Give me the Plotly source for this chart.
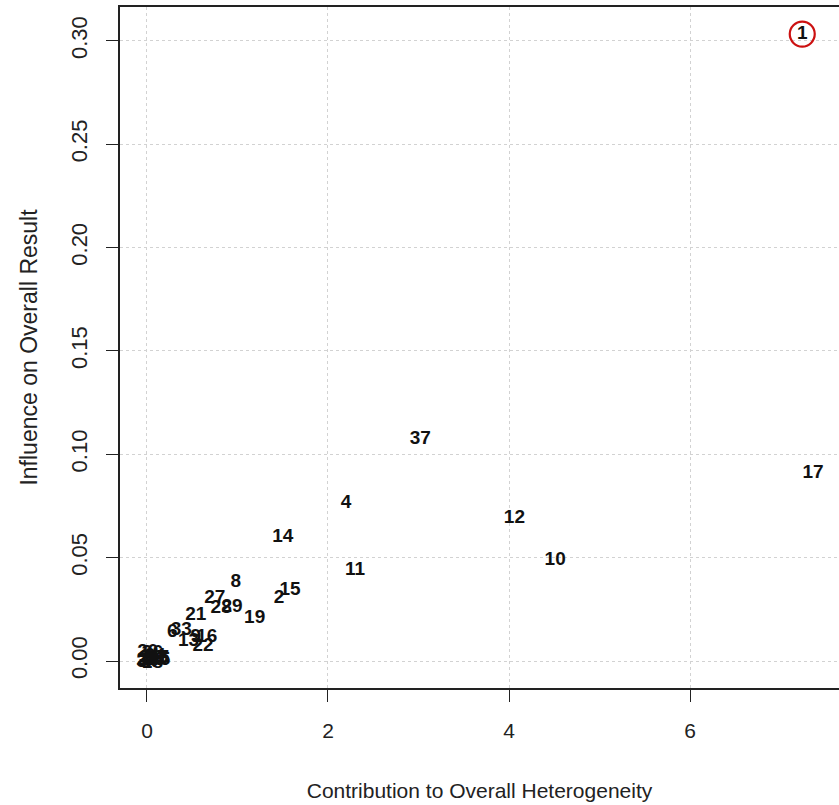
import plotly.graph_objects as go

# Baujat plot: each study's contribution to heterogeneity vs influence on the pooled result
study = ["1", "17", "37", "4", "12", "10", "14", "11", "15", "2", "8", "27", "28", "29",
         "19", "21", "6", "33", "13", "9", "16", "22",
         "34", "3", "30", "31", "7", "18", "23", "20", "36", "24", "26", "25", "35", "5"]
heterogeneity = [7.24, 7.36, 3.02, 2.20, 4.06, 4.51, 1.50, 2.30, 1.58, 1.46, 0.98, 0.75, 0.82, 0.94,
                 1.19, 0.54, 0.28, 0.38, 0.46, 0.54, 0.66, 0.62,
                 0.00, 0.01, 0.02, 0.03, 0.04, 0.06, 0.00, 0.01, 0.06, 0.09, 0.08, 0.12, 0.14, 0.19]
influence = [0.3033, 0.0910, 0.1074, 0.0764, 0.0692, 0.0489, 0.0600, 0.0440, 0.0343, 0.0305,
             0.0382, 0.0305, 0.0256, 0.0261, 0.0208, 0.0223, 0.0140, 0.0150, 0.0097, 0.0116,
             0.0116, 0.0073,
             -0.0005, 0.0010, 0.0000, 0.0015, 0.0000, -0.0010, 0.0005, 0.0044, 0.0039, 0.0024,
             0.0005, 0.0015, 0.0005, 0.0015]
flagged = ["1"]

x_ticks = [0, 2, 4, 6]
y_ticks = [0.00, 0.05, 0.10, 0.15, 0.20, 0.25, 0.30]

label_font = dict(family="Liberation Sans, Arial", size=19, color="#111111")
x_font = dict(family="Liberation Sans, Arial", size=21, color="#222222")
y_tick_font = dict(family="Liberation Sans, Arial", size=22, color="#222222")
y_title_font = dict(family="Liberation Sans, Arial", size=23, color="#222222")

fig = go.Figure()
fig.add_trace(go.Scatter(
    x=heterogeneity, y=influence, mode="text", text=[f"<b>{s}</b>" for s in study],
    textposition="middle center", textfont=label_font, hoverinfo="skip", showlegend=False,
))

# Ring around the flagged outlier
fx = [h for h, s in zip(heterogeneity, study) if s in flagged]
fy = [v for v, s in zip(influence, study) if s in flagged]
fig.add_trace(go.Scatter(
    x=fx, y=fy, mode="markers",
    marker=dict(symbol="circle-open", size=25, color="#cc1111", line=dict(width=2.2, color="#cc1111")),
    hoverinfo="skip", showlegend=False,
))

fig.update_layout(
    width=839, height=805,
    margin=dict(l=120, r=0, t=7, b=117),
    plot_bgcolor="white", paper_bgcolor="white",
    font=x_font,
    xaxis=dict(
        range=[-0.298, 7.646], tickvals=x_ticks, ticktext=[str(t) for t in x_ticks],
        tickfont=x_font,
        showgrid=True, gridcolor="#d2d2d2", griddash="dot", gridwidth=1,
        zeroline=False, showline=True, mirror=True, linecolor="#222222", linewidth=1.6,
        ticks="outside", ticklen=12, tickcolor="#222222", tickwidth=1.2,
        ticklabelstandoff=11,
        title=dict(text="Contribution to Overall Heterogeneity", standoff=42, font=x_font),
    ),
    yaxis=dict(
        range=[-0.01306, 0.3164], tickvals=y_ticks, ticktext=[f"{t:.2f}" for t in y_ticks],
        tickangle=-90, tickfont=y_tick_font,
        showgrid=True, gridcolor="#d2d2d2", griddash="dot", gridwidth=1,
        zeroline=False, showline=True, mirror=False, linecolor="#222222", linewidth=1.6,
        ticks="outside", ticklen=12, tickcolor="#222222", tickwidth=1.2,
        ticklabelstandoff=10,
        title=dict(text="Influence on Overall Result", standoff=23, font=y_title_font),
    ),
)

fig.write_html("out.html")
